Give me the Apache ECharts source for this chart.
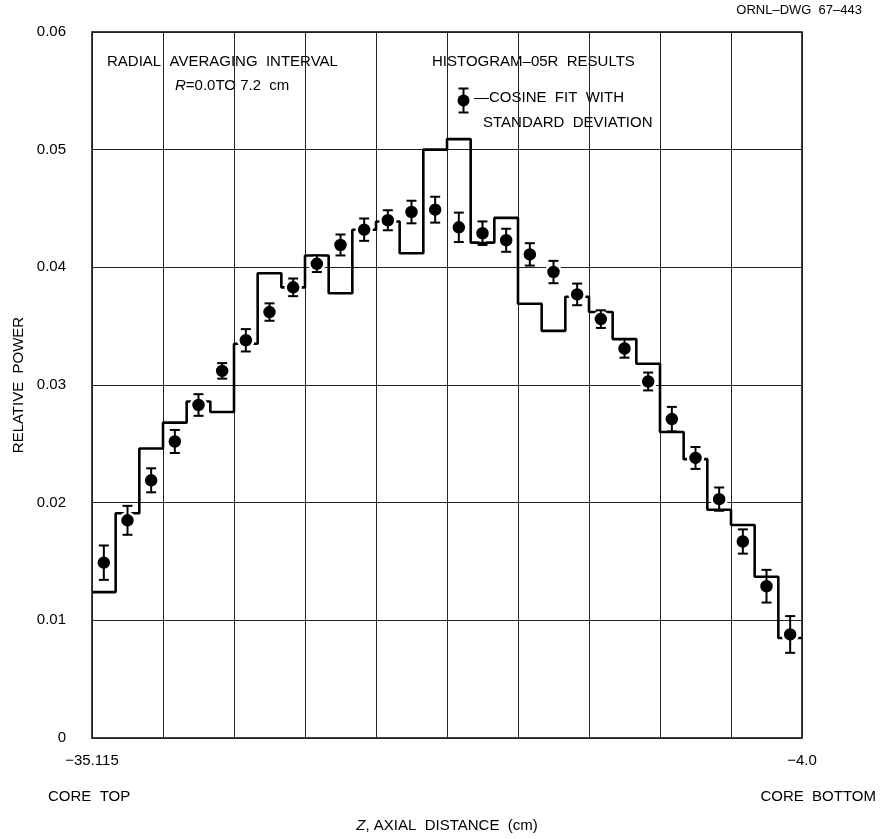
<!DOCTYPE html>
<html>
<head>
<meta charset="utf-8">
<script src="https://cdn.jsdelivr.net/npm/echarts@6/dist/echarts.min.js"></script>
<style>
  html, body { margin: 0; padding: 0; background: #fff; }
  #chart { width: 881px; height: 839px; }
</style>
</head>
<body>
<div id="chart"></div>
<script>
// Relative axial power, 30 equal bins from core top (z = -35.115 cm) to core bottom (z = -4.0 cm)
const binCount = 30;
const zLabels = ['\u221235.115', '\u22124.0'];
const yTicks = [0, 0.01, 0.02, 0.03, 0.04, 0.05, 0.06];

// HISTOGRAM-05R results, one value per bin
const histogram = [
  0.0124, 0.0191, 0.0246, 0.0268, 0.0286, 0.0277, 0.0335, 0.0395, 0.0383, 0.0410,
  0.0378, 0.0432, 0.0439, 0.0412, 0.0500, 0.0509, 0.0421, 0.0442, 0.0369, 0.0346,
  0.0375, 0.0362, 0.0339, 0.0318, 0.0260, 0.0237, 0.0194, 0.0181, 0.0137, 0.0085
];

// Cosine fit, bin centres
const cosineFit = [
  0.0149, 0.0185, 0.0219, 0.0252, 0.0283, 0.0312, 0.0338, 0.0362, 0.0383, 0.0403,
  0.0419, 0.0432, 0.0440, 0.0447, 0.0449, 0.0434, 0.0429, 0.0423, 0.0411, 0.0396,
  0.0377, 0.0356, 0.0331, 0.0303, 0.0271, 0.0238, 0.0203, 0.0167, 0.0129, 0.0088
];

// Standard deviation of the fit
const sigma = [
  0.00146, 0.00123, 0.00102, 0.00098, 0.00092, 0.00066, 0.00095, 0.00074, 0.00075, 0.00070,
  0.00089, 0.00095, 0.00085, 0.00096, 0.00110, 0.00125, 0.00100, 0.00098, 0.00095, 0.00095,
  0.00092, 0.00075, 0.00078, 0.00076, 0.00104, 0.00093, 0.00099, 0.00103, 0.00139, 0.00156
];

const font = "'Liberation Sans', Arial, sans-serif";
const ink = '#000';

// step outline: each bin holds its value from its left edge to the next edge
const stepData = histogram.map((v, i) => [i, v]);
stepData.push([binCount, histogram[binCount - 1]]);
const fitData = cosineFit.map((v, i) => [i + 0.5, v]);
const errData = cosineFit.map((v, i) => [i + 0.5, v - sigma[i], v + sigma[i]]);

function errorBar(params, api) {
  const x = api.value(0);
  const lo = api.coord([x, api.value(1)]);
  const hi = api.coord([x, api.value(2)]);
  const cap = 5;
  const style = { stroke: ink, lineWidth: 2, fill: null };
  return {
    type: 'group',
    children: [
      { type: 'line', shape: { x1: lo[0], y1: lo[1], x2: hi[0], y2: hi[1] }, style },
      { type: 'line', shape: { x1: lo[0] - cap, y1: lo[1], x2: lo[0] + cap, y2: lo[1] }, style },
      { type: 'line', shape: { x1: hi[0] - cap, y1: hi[1], x2: hi[0] + cap, y2: hi[1] }, style }
    ]
  };
}

const textStyle = { fill: '#000', font: '15px ' + font };

const chart = echarts.init(document.getElementById('chart'), null, { renderer: 'canvas' });
chart.setOption({
  animation: false,
  backgroundColor: '#fff',
  grid: {
    left: 92, right: 79, top: 32, bottom: 101,
    show: true, borderColor: '#000', borderWidth: 1.5, backgroundColor: 'transparent'
  },
  xAxis: {
    type: 'value',
    min: 0, max: binCount, interval: 3,
    axisLine: { show: false },
    axisTick: { show: false },
    splitLine: { show: true, lineStyle: { color: '#222', width: 1 } },
    axisLabel: {
      color: '#000', fontFamily: font, fontSize: 15, margin: 15,
      showMinLabel: true, showMaxLabel: true,
      formatter: v => (v === 0 ? zLabels[0] : v === binCount ? zLabels[1] : '')
    },
    name: '{i|Z}, AXIAL  DISTANCE  (cm)',
    nameLocation: 'middle',
    nameGap: 80,
    nameTextStyle: {
      color: '#000', fontFamily: font, fontSize: 15,
      rich: { i: { fontStyle: 'italic', fontFamily: font, fontSize: 15, color: '#000' } }
    }
  },
  yAxis: {
    type: 'value',
    min: yTicks[0], max: yTicks[yTicks.length - 1], interval: yTicks[1] - yTicks[0],
    axisLine: { show: false },
    axisTick: { show: false },
    splitLine: { show: true, lineStyle: { color: '#222', width: 1.2 } },
    axisLabel: {
      color: '#000', fontFamily: font, fontSize: 15, margin: 26,
      formatter: v => (v === 0 ? '0' : v.toFixed(2))
    },
    name: 'RELATIVE  POWER',
    nameLocation: 'middle',
    nameGap: 66,
    nameTextStyle: { color: '#000', fontFamily: font, fontSize: 15 }
  },
  graphic: [
    { type: 'text', right: 19, top: 4, style: { text: 'ORNL\u2013DWG  67\u2013443', fill: '#000', font: '13px ' + font } },
    { type: 'text', left: 107, top: 54, style: Object.assign({ text: 'RADIAL  AVERAGING  INTERVAL' }, textStyle) },
    {
      type: 'text', left: 175, top: 78,
      style: {
        text: '{i|R}=0.0TO 7.2  cm',
        fill: '#000', font: '15px ' + font,
        rich: { i: { fontStyle: 'italic', fontFamily: font, fontSize: 15, fill: '#000' } }
      }
    },
    { type: 'text', left: 432, top: 54, style: Object.assign({ text: 'HISTOGRAM\u201305R  RESULTS' }, textStyle) },
    { type: 'text', left: 474, top: 90, style: Object.assign({ text: '\u2014COSINE  FIT  WITH' }, textStyle) },
    { type: 'text', left: 483, top: 115, style: Object.assign({ text: 'STANDARD  DEVIATION' }, textStyle) },
    // legend glyph: dot with error bar
    {
      type: 'group', left: 456, top: 86,
      children: [
        { type: 'line', shape: { x1: 6, y1: 0, x2: 6, y2: 24 }, style: { stroke: ink, lineWidth: 2 } },
        { type: 'line', shape: { x1: 1, y1: 0, x2: 11, y2: 0 }, style: { stroke: ink, lineWidth: 2 } },
        { type: 'line', shape: { x1: 1, y1: 24, x2: 11, y2: 24 }, style: { stroke: ink, lineWidth: 2 } },
        { type: 'circle', shape: { cx: 6, cy: 12, r: 6 }, style: { fill: ink } }
      ]
    },
    { type: 'text', left: 48, top: 789, style: Object.assign({ text: 'CORE  TOP' }, textStyle) },
    { type: 'text', right: 5, top: 789, style: Object.assign({ text: 'CORE  BOTTOM' }, textStyle) }
  ],
  series: [
    {
      name: 'HISTOGRAM-05R',
      type: 'line',
      data: stepData,
      step: 'end',
      showSymbol: false,
      lineStyle: { color: ink, width: 2.6 },
      z: 2
    },
    {
      name: 'COSINE FIT',
      type: 'scatter',
      data: fitData,
      symbol: 'circle',
      symbolSize: 15,
      itemStyle: { color: ink, opacity: 1, borderColor: '#fff', borderWidth: 2.5 },
      z: 3
    },
    {
      name: 'STANDARD DEVIATION',
      type: 'custom',
      data: errData,
      encode: { x: 0, y: [1, 2] },
      renderItem: errorBar,
      z: 4
    }
  ]
});
</script>
</body>
</html>
